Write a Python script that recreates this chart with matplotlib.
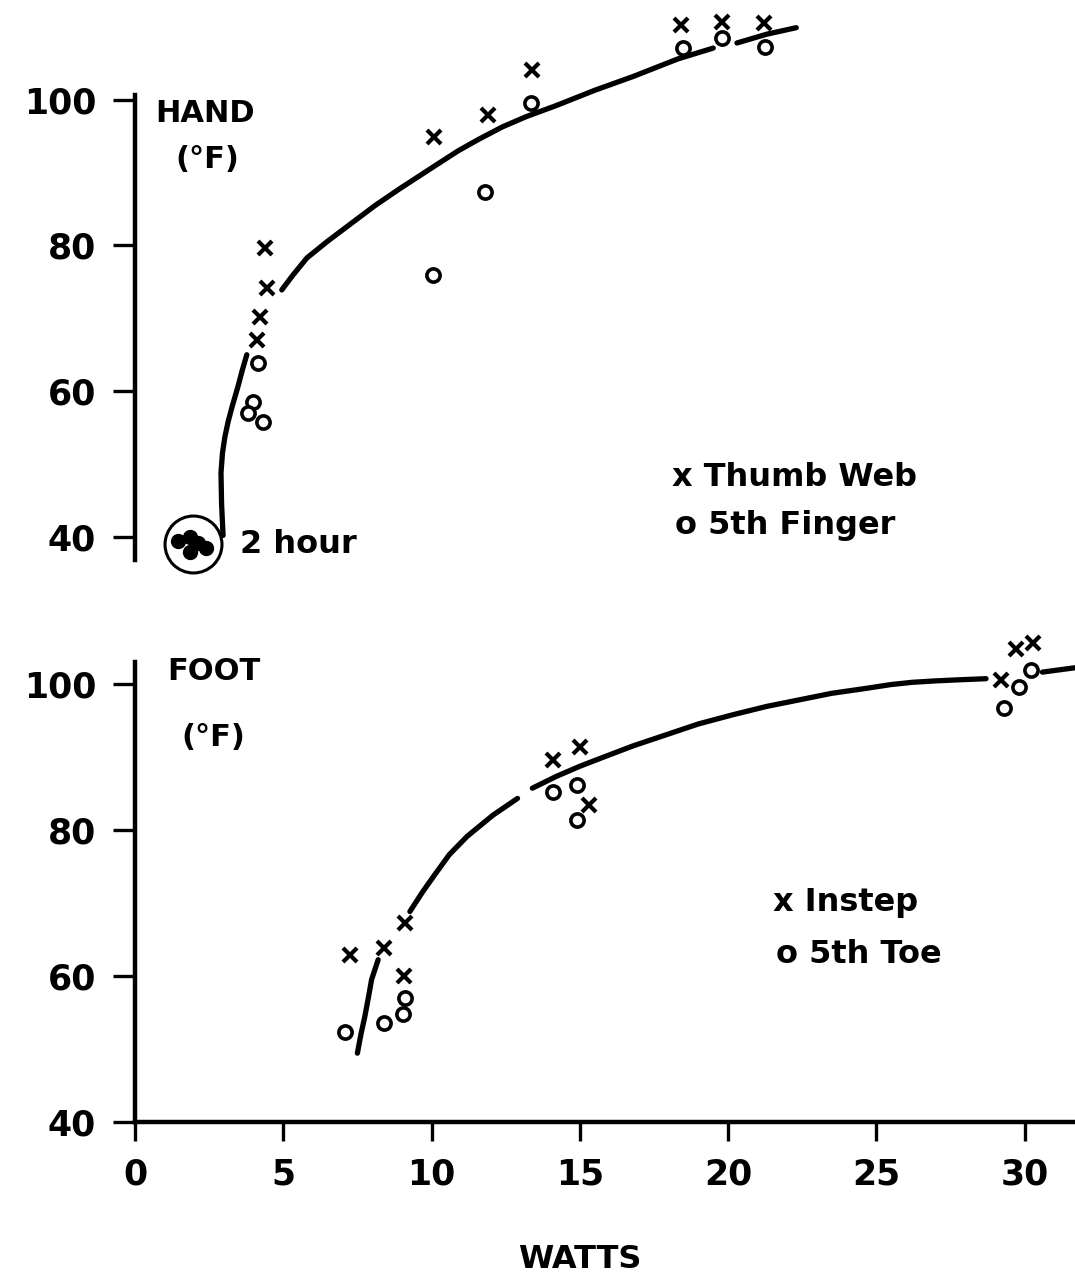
import matplotlib
matplotlib.use("Agg")
import matplotlib.pyplot as plt

plt.rcParams['font.family'] = ['DejaVu Sans']

# Hand: thumb web (x) and 5th finger (o), watts vs temperature (F)
hand_web_w = [4.38, 4.46, 4.2, 4.1, 10.1, 11.9, 13.4, 18.4, 19.8, 21.2]
hand_web_t = [79.7, 74.2, 70.2, 67.0, 94.9, 97.9, 104.1, 110.3, 110.7, 110.6]
hand_fin_w = [4.15, 3.98, 3.8, 4.3, 10.05, 11.8, 13.35, 18.47, 19.8, 21.23]
hand_fin_t = [63.9, 58.5, 57.0, 55.8, 76.0, 87.4, 99.6, 107.1, 108.5, 107.3]

# 2 hour cluster
hour2_w = [1.45, 1.85, 2.12, 1.85, 2.38]
hour2_t = [39.4, 39.95, 39.1, 37.9, 38.5]
hour2_ring = (1.95, 39.0)

# hand-drawn fit curve, in pieces
hand_curve = [
    ([2.97, 2.92, 2.90, 2.95, 3.03, 3.14, 3.27, 3.47, 3.62, 3.77],
     [40.2, 44.5, 48.8, 51.5, 53.7, 55.8, 57.8, 60.6, 62.9, 65.0]),
    ([4.95, 5.3, 5.8, 6.5, 7.25, 8.1, 8.93, 10.1, 10.9, 11.6, 12.4, 13.2,
      14.2, 15.5, 16.8, 18.3, 19.5],
     [73.9, 75.8, 78.3, 80.6, 82.9, 85.5, 87.8, 90.9, 93.0, 94.6, 96.3, 97.7,
      99.2, 101.3, 103.2, 105.6, 107.1]),
    ([20.3, 21.3, 22.3],
     [107.8, 109.0, 109.9]),
]

# Foot: instep (x) and 5th toe (o)
foot_inst_w = [7.25, 8.4, 9.1, 9.07, 14.1, 15.0, 15.3, 29.2, 29.7, 30.3]
foot_inst_t = [62.9, 63.8, 67.2, 60.0, 89.6, 91.4, 83.4, 100.5, 104.7, 105.6]
foot_toe_w = [7.08, 8.4, 9.1, 9.05, 14.1, 14.9, 14.9, 29.3, 29.8, 30.2]
foot_toe_t = [52.3, 53.6, 57.0, 54.7, 85.2, 86.2, 81.4, 96.7, 99.6, 101.9]

foot_curve = [
    ([7.5, 7.62, 7.75, 7.87, 7.98, 8.2],
     [49.4, 52.0, 54.4, 57.0, 59.5, 62.2]),
    ([9.27, 9.7, 10.1, 10.6, 11.2, 12.07, 12.9],
     [68.8, 71.5, 73.8, 76.6, 79.1, 82.0, 84.3]),
    ([13.4, 14.2, 15.0, 15.7, 16.8, 17.9, 19.0, 20.2, 21.3, 22.4, 23.5,
      24.7, 25.5, 26.2, 27.0, 27.8, 28.7],
     [85.7, 87.3, 88.7, 89.8, 91.5, 93.0, 94.5, 95.8, 96.9, 97.8, 98.7,
      99.4, 99.9, 100.2, 100.4, 100.55, 100.7]),
    ([30.6, 31.7],
     [101.6, 102.2]),
]

yticks = [40, 60, 80, 100]
xticks = [0, 5, 10, 15, 20, 25, 30]

W, H = 1075, 1282
fig = plt.figure(figsize=(W / 100, H / 100), dpi=100)


def px_axes(x0, y0, x1, y1):
    return fig.add_axes([x0 / W, 1 - y1 / H, (x1 - x0) / W, (y1 - y0) / H])


def style_axes(ax):
    for s in ['top', 'right']:
        ax.spines[s].set_visible(False)
    ax.spines['left'].set_linewidth(3.2)
    ax.spines['bottom'].set_linewidth(3.2)
    ax.set_yticks(yticks)
    ax.tick_params(axis='y', direction='out', length=16, width=2.4, pad=12,
                   labelsize=25)
    for lab in ax.get_yticklabels():
        lab.set_fontweight('bold')


def draw_curve(ax, pieces):
    for cw, ct in pieces:
        ax.plot(cw, ct, color='black', linewidth=3.8, solid_capstyle='round',
                solid_joinstyle='round', clip_on=False)


def draw_points(ax, xw, xt, ow, ot):
    ax.plot(xw, xt, linestyle='none', marker='x', markersize=10,
            markeredgewidth=3.0, color='black', zorder=3, clip_on=False)
    ax.plot(ow, ot, linestyle='none', marker='o', markersize=9.5,
            markeredgewidth=2.6, markerfacecolor='white',
            markeredgecolor='black', zorder=3, clip_on=False)


# top panel: hand
ax1 = px_axes(135, 0, 1075, 566)
ax1.set_xlim(0, 31.7)
ax1.set_ylim(36, 113.7)
style_axes(ax1)
ax1.spines['bottom'].set_visible(False)
ax1.set_xticks([])
ax1.spines['left'].set_bounds(36.8, 100.7)
draw_curve(ax1, hand_curve)
draw_points(ax1, hand_web_w, hand_web_t, hand_fin_w, hand_fin_t)
ax1.plot(hour2_w, hour2_t, linestyle='none', marker='o', markersize=10,
         color='black', zorder=3, clip_on=False)
ax1.plot([hour2_ring[0]], [hour2_ring[1]], marker='o', markersize=41,
         markerfacecolor='none', markeredgecolor='black', markeredgewidth=2.2,
         clip_on=False)
ax1.text(3.54, 38.9, '2 hour', fontsize=23, fontweight='bold', va='center')
ax1.text(0.67, 97.0, 'HAND', fontsize=22, fontweight='bold', va='baseline')
ax1.text(1.35, 91.8, '(°F)', fontsize=22, fontweight='bold', va='center')
ax1.text(18.1, 48.1, 'x Thumb Web', fontsize=23, fontweight='bold', va='center')
ax1.text(18.2, 41.6, 'o 5th Finger', fontsize=23, fontweight='bold', va='center')

# bottom panel: foot
ax2 = px_axes(135, 640, 1075, 1151)
ax2.set_xlim(0, 31.7)
ax2.set_ylim(36, 106)
style_axes(ax2)
ax2.spines['bottom'].set_position(('data', 40))
ax2.spines['left'].set_bounds(40, 103)
ax2.set_xticks(xticks)
ax2.tick_params(axis='x', direction='out', length=14, width=2.4, pad=12,
                labelsize=25)
for lab in ax2.get_xticklabels():
    lab.set_fontweight('bold')
draw_curve(ax2, foot_curve)
draw_points(ax2, foot_inst_w, foot_inst_t, foot_toe_w, foot_toe_t)
ax2.text(1.08, 100.5, 'FOOT', fontsize=22, fontweight='bold', va='baseline')
ax2.text(1.58, 92.7, '(°F)', fontsize=22, fontweight='bold', va='center')
ax2.text(21.5, 70.0, 'x Instep', fontsize=23, fontweight='bold', va='center')
ax2.text(21.6, 62.9, 'o 5th Toe', fontsize=23, fontweight='bold', va='center')

fig.text(580 / W, 1 - 1260 / H, 'WATTS', fontsize=23, fontweight='bold',
         ha='center', va='center')

fig.savefig('out.png', dpi=100, facecolor='white')
